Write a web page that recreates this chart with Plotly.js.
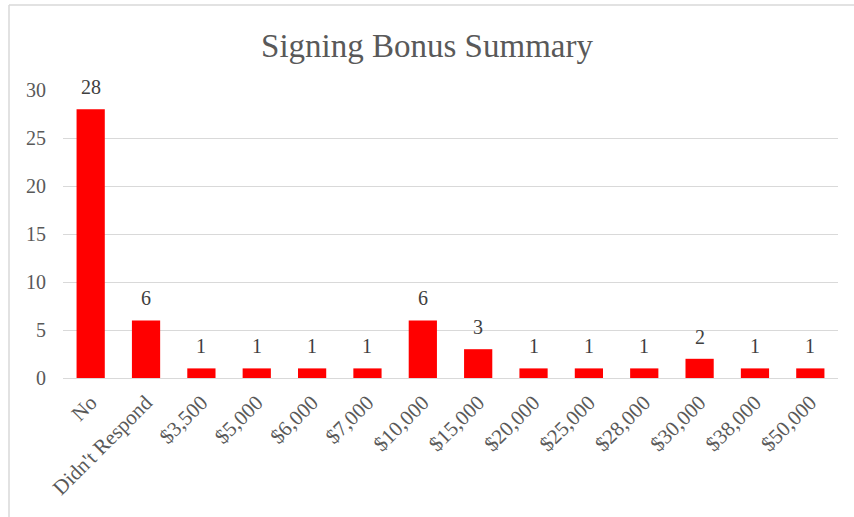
<!DOCTYPE html>
<html>
<head>
<meta charset="utf-8">
<script src="https://cdn.plot.ly/plotly-3.0.1.min.js"></script>
<style>html,body{margin:0;padding:0;background:#fff;}#chart{width:854px;height:517px;}</style>
</head>
<body>
<div id="chart"></div>
<script>
const categories = ["No", "Didn't Respond", "$3,500", "$5,000", "$6,000", "$7,000", "$10,000", "$15,000", "$20,000", "$25,000", "$28,000", "$30,000", "$38,000", "$50,000"];
const counts = [28, 6, 1, 1, 1, 1, 6, 3, 1, 1, 1, 2, 1, 1];
const yTicks = [0, 5, 10, 15, 20, 25, 30];

const FONT = 'Liberation Serif, Times New Roman, serif';

const trace = {
  type: 'bar',
  x: categories,
  y: counts,
  marker: {color: '#ff0000'},
  hoverinfo: 'none'
};

const plotW = 854 - 63 - 16, plotH = 517 - 90 - 139;

const layout = {
  width: 854, height: 517,
  margin: {l: 63, r: 16, t: 90, b: 139},
  paper_bgcolor: '#ffffff', plot_bgcolor: '#ffffff',
  bargap: 0.49,
  showlegend: false,
  title: {
    text: 'Signing Bonus Summary',
    font: {family: FONT, size: 33, color: '#595959'},
    x: 0.5, xanchor: 'center', y: 0.913, yanchor: 'middle'
  },
  xaxis: {
    type: 'category',
    tickangle: -45,
    tickfont: {family: FONT, size: 21, color: '#595959'},
    showgrid: false,
    showline: true, linecolor: '#d9d9d9', linewidth: 1,
    ticks: '', zeroline: false,
    ticklabelstandoff: 3
  },
  yaxis: {
    range: [0, 30],
    tickvals: yTicks,
    ticktext: yTicks.map(String),
    tickfont: {family: FONT, size: 20, color: '#595959'},
    showgrid: true, gridcolor: '#d9d9d9', gridwidth: 1,
    zeroline: false, showline: false, ticks: '',
    ticklabelstandoff: 16
  },
  annotations: categories.map((c, i) => ({
    x: c, y: counts[i], xref: 'x', yref: 'y',
    text: String(counts[i]), showarrow: false,
    yanchor: 'bottom', yshift: 9,
    font: {family: FONT, size: 20, color: '#404040'}
  })),
  shapes: [
    {type: 'line', xref: 'paper', yref: 'paper',
     x0: (9 - 63) / plotW, x1: (9 - 63) / plotW,
     y0: (517 - 139 - 5) / plotH, y1: (517 - 139 - 520) / plotH,
     line: {color: '#d9d9d9', width: 1.5}},
    {type: 'line', xref: 'paper', yref: 'paper',
     x0: (9 - 63) / plotW, x1: (860 - 63) / plotW,
     y0: (517 - 139 - 5) / plotH, y1: (517 - 139 - 5) / plotH,
     line: {color: '#d9d9d9', width: 1.5}}
  ]
};

Plotly.newPlot('chart', [trace], layout, {displayModeBar: false, staticPlot: true});
</script>
</body>
</html>
